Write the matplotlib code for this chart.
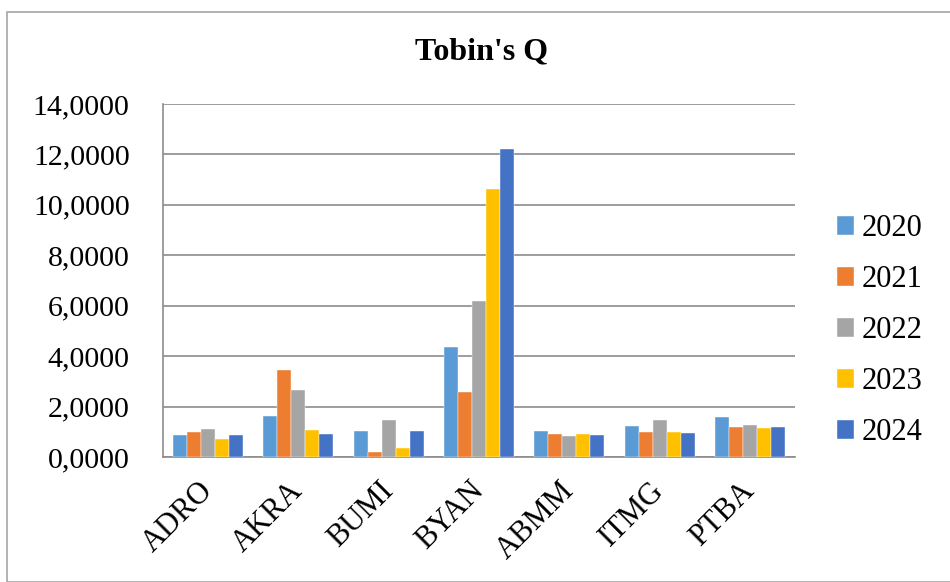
import matplotlib.pyplot as plt
import numpy as np
from matplotlib.patches import Rectangle

# Data
companies = ["ADRO", "AKRA", "BUMI", "BYAN", "ABMM", "ITMG", "PTBA"]
years = ["2020", "2021", "2022", "2023", "2024"]
v2020 = [0.87, 1.63, 1.05, 4.36, 1.03, 1.23, 1.59]
v2021 = [1.00, 3.47, 0.21, 2.57, 0.91, 1.00, 1.17]
v2022 = [1.11, 2.65, 1.47, 6.20, 0.82, 1.46, 1.28]
v2023 = [0.73, 1.07, 0.34, 10.61, 0.91, 0.99, 1.15]
v2024 = [0.87, 0.91, 1.03, 12.20, 0.87, 0.95, 1.20]
series = [v2020, v2021, v2022, v2023, v2024]
colors = ["#5B9BD5", "#ED7D31", "#A5A5A5", "#FFC000", "#4472C4"]

plt.rcParams['font.family'] = ['Liberation Serif', 'DejaVu Serif']

fig = plt.figure(figsize=(9.5, 5.82), dpi=100)
ax = fig.add_axes([163 / 950, 1 - 457 / 582, 632 / 950, 353 / 582])

# chart border
fig.patches.append(Rectangle((7 / 950, 0), 1, 1 - 12 / 582, transform=fig.transFigure,
                             fill=False, edgecolor="#A6A6A6", linewidth=1.2))

x = np.arange(len(companies))
w = 0.155
for i, (yr, vals) in enumerate(zip(years, series)):
    ax.bar(x + (i - 2) * w, vals, w, color=colors[i], label=yr, zorder=3,
           edgecolor="white", linewidth=0.3)

ax.set_xlim(-0.5, len(companies) - 0.5)
ax.set_ylim(0, 14)
ax.set_yticks(np.arange(0, 15, 2))
ax.set_yticklabels([f"{v:.4f}".replace(".", ",") for v in np.arange(0, 15, 2)], fontsize=21.5)
ax.set_xticks(x)
ax.set_xticklabels(companies, rotation=45, ha="right", va="center",
                   rotation_mode="anchor", fontsize=22)
ax.tick_params(axis="x", length=0, pad=21)
ax.tick_params(axis="y", length=0, pad=24)
ax.grid(axis="y", color="#8C8C8C", linewidth=1.2, zorder=0)
for s in ["top", "right"]:
    ax.spines[s].set_visible(False)
ax.spines["left"].set_color("#8C8C8C")
ax.spines["bottom"].set_color("#8C8C8C")
ax.spines["left"].set_linewidth(1.2)
ax.spines["bottom"].set_linewidth(1.2)

fig.text(482 / 950, 1 - 52 / 582, "Tobin's Q", ha="center", va="center",
         fontsize=23, fontweight="bold")

ax.legend(loc="center left", bbox_to_anchor=(837 / 950, 1 - 330.5 / 582),
          bbox_transform=fig.transFigure, frameon=False, fontsize=22,
          borderaxespad=0, borderpad=0,
          handlelength=0.56, handleheight=0.56, handletextpad=0.23, labelspacing=0.72)

fig.savefig("out.png", dpi=100)
